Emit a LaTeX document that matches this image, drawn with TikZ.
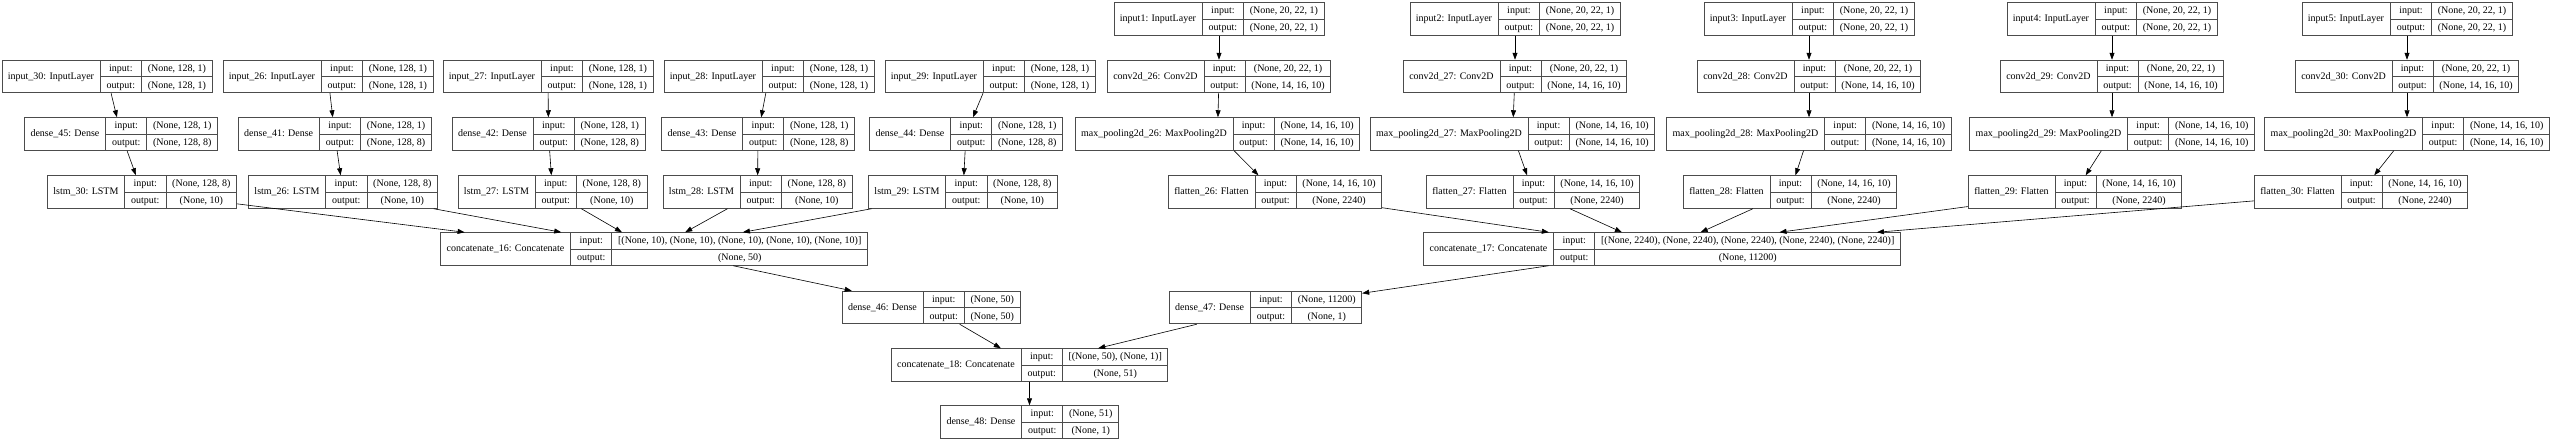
\documentclass[tikz,border=0pt]{standalone}
\usepackage{fontspec}
\setmainfont{Liberation Serif}
\usepackage{colortbl}
\usetikzlibrary{arrows.meta, calc}

\renewcommand{\arraystretch}{1.333}
\arrayrulecolor{black!70}
\setlength{\arrayrulewidth}{0.7pt}

% record of one layer: name | input:/output: | shapes
\newcommand{\layerrec}[3]{%
  \begin{tabular}{@{\hspace{6pt}}c@{\hspace{6pt}}|@{}c@{}}
    #1 &
    \begin{tabular}{@{\hspace{6pt}}c@{\hspace{6pt}}|@{\hspace{6pt}}c@{\hspace{6pt}}}
      input: & #2 \\ \hline
      output: & #3
    \end{tabular}
  \end{tabular}}

\begin{document}
\begin{tikzpicture}[
    x=1pt, y=-1pt,
    >={Triangle[length=7pt, width=5pt]},
    layer/.style={draw=black!70, line width=0.8pt, inner sep=0pt, fill=white,
                  font=\fontsize{10}{12}\selectfont},
    edge/.style={->, line width=0.6pt}
]
    \useasboundingbox (0,0) rectangle (2558,442);

    % === LSTM branches ===
    \node[layer] (input_30) at (107,76.5) {\layerrec{input\_30: InputLayer}{(None, 128, 1)}{(None, 128, 1)}};
    \node[layer] (dense_45) at (121,134) {\layerrec{dense\_45: Dense}{(None, 128, 1)}{(None, 128, 8)}};
    \node[layer] (lstm_30) at (142,192) {\layerrec{lstm\_30: LSTM}{(None, 128, 8)}{(None, 10)}};

    \node[layer] (input_26) at (328,76.5) {\layerrec{input\_26: InputLayer}{(None, 128, 1)}{(None, 128, 1)}};
    \node[layer] (dense_41) at (334.7,134) {\layerrec{dense\_41: Dense}{(None, 128, 1)}{(None, 128, 8)}};
    \node[layer] (lstm_26) at (343,192) {\layerrec{lstm\_26: LSTM}{(None, 128, 8)}{(None, 10)}};

    \node[layer] (input_27) at (548,76.5) {\layerrec{input\_27: InputLayer}{(None, 128, 1)}{(None, 128, 1)}};
    \node[layer] (dense_42) at (548.5,134) {\layerrec{dense\_42: Dense}{(None, 128, 1)}{(None, 128, 8)}};
    \node[layer] (lstm_27) at (552.5,192) {\layerrec{lstm\_27: LSTM}{(None, 128, 8)}{(None, 10)}};

    \node[layer] (input_28) at (769,76.5) {\layerrec{input\_28: InputLayer}{(None, 128, 1)}{(None, 128, 1)}};
    \node[layer] (dense_43) at (758,134) {\layerrec{dense\_43: Dense}{(None, 128, 1)}{(None, 128, 8)}};
    \node[layer] (lstm_28) at (757.5,192) {\layerrec{lstm\_28: LSTM}{(None, 128, 8)}{(None, 10)}};

    \node[layer] (input_29) at (990,76.5) {\layerrec{input\_29: InputLayer}{(None, 128, 1)}{(None, 128, 1)}};
    \node[layer] (dense_44) at (966,134) {\layerrec{dense\_44: Dense}{(None, 128, 1)}{(None, 128, 8)}};
    \node[layer] (lstm_29) at (963,192) {\layerrec{lstm\_29: LSTM}{(None, 128, 8)}{(None, 10)}};

    \node[layer] (concat_16) at (654,249) {\layerrec{concatenate\_16: Concatenate}{[(None, 10), (None, 10), (None, 10), (None, 10), (None, 10)]}{(None, 50)}};
    \node[layer] (dense_46) at (931,307.5) {\layerrec{dense\_46: Dense}{(None, 50)}{(None, 50)}};

    % === Conv branches ===
    \node[layer] (input1) at (1219,19) {\layerrec{input1: InputLayer}{(None, 20, 22, 1)}{(None, 20, 22, 1)}};
    \node[layer] (conv_26) at (1219,76.5) {\layerrec{conv2d\_26: Conv2D}{(None, 20, 22, 1)}{(None, 14, 16, 10)}};
    \node[layer] (pool_26) at (1217.5,134) {\layerrec{max\_pooling2d\_26: MaxPooling2D}{(None, 14, 16, 10)}{(None, 14, 16, 10)}};
    \node[layer] (flatten_26) at (1275,192) {\layerrec{flatten\_26: Flatten}{(None, 14, 16, 10)}{(None, 2240)}};

    \node[layer] (input2) at (1515,19) {\layerrec{input2: InputLayer}{(None, 20, 22, 1)}{(None, 20, 22, 1)}};
    \node[layer] (conv_27) at (1515,76.5) {\layerrec{conv2d\_27: Conv2D}{(None, 20, 22, 1)}{(None, 14, 16, 10)}};
    \node[layer] (pool_27) at (1512.5,134) {\layerrec{max\_pooling2d\_27: MaxPooling2D}{(None, 14, 16, 10)}{(None, 14, 16, 10)}};
    \node[layer] (flatten_27) at (1533,192) {\layerrec{flatten\_27: Flatten}{(None, 14, 16, 10)}{(None, 2240)}};

    \node[layer] (input3) at (1809,19) {\layerrec{input3: InputLayer}{(None, 20, 22, 1)}{(None, 20, 22, 1)}};
    \node[layer] (conv_28) at (1809,76.5) {\layerrec{conv2d\_28: Conv2D}{(None, 20, 22, 1)}{(None, 14, 16, 10)}};
    \node[layer] (pool_28) at (1809,134) {\layerrec{max\_pooling2d\_28: MaxPooling2D}{(None, 14, 16, 10)}{(None, 14, 16, 10)}};
    \node[layer] (flatten_28) at (1790,192) {\layerrec{flatten\_28: Flatten}{(None, 14, 16, 10)}{(None, 2240)}};

    \node[layer] (input4) at (2112,19) {\layerrec{input4: InputLayer}{(None, 20, 22, 1)}{(None, 20, 22, 1)}};
    \node[layer] (conv_29) at (2112,76.5) {\layerrec{conv2d\_29: Conv2D}{(None, 20, 22, 1)}{(None, 14, 16, 10)}};
    \node[layer] (pool_29) at (2112,134) {\layerrec{max\_pooling2d\_29: MaxPooling2D}{(None, 14, 16, 10)}{(None, 14, 16, 10)}};
    \node[layer] (flatten_29) at (2075,192) {\layerrec{flatten\_29: Flatten}{(None, 14, 16, 10)}{(None, 2240)}};

    \node[layer] (input5) at (2407,19) {\layerrec{input5: InputLayer}{(None, 20, 22, 1)}{(None, 20, 22, 1)}};
    \node[layer] (conv_30) at (2407,76.5) {\layerrec{conv2d\_30: Conv2D}{(None, 20, 22, 1)}{(None, 14, 16, 10)}};
    \node[layer] (pool_30) at (2407,134) {\layerrec{max\_pooling2d\_30: MaxPooling2D}{(None, 14, 16, 10)}{(None, 14, 16, 10)}};
    \node[layer] (flatten_30) at (2361,192) {\layerrec{flatten\_30: Flatten}{(None, 14, 16, 10)}{(None, 2240)}};

    \node[layer] (concat_17) at (1662,249) {\layerrec{concatenate\_17: Concatenate}{[(None, 2240), (None, 2240), (None, 2240), (None, 2240), (None, 2240)]}{(None, 11200)}};
    \node[layer] (dense_47) at (1265.5,307.5) {\layerrec{dense\_47: Dense}{(None, 11200)}{(None, 1)}};

    % === Merge and output ===
    \node[layer] (concat_18) at (1029.5,365) {\layerrec{concatenate\_18: Concatenate}{[(None, 50), (None, 1)]}{(None, 51)}};
    \node[layer] (dense_48) at (1029.5,422) {\layerrec{dense\_48: Dense}{(None, 51)}{(None, 1)}};

    % === Edges ===
    \draw[edge] (input_30) -- (dense_45);
    \draw[edge] (dense_45) -- (lstm_30);
    \draw[edge] (input_26) -- (dense_41);
    \draw[edge] (dense_41) -- (lstm_26);
    \draw[edge] (input_27) -- (dense_42);
    \draw[edge] (dense_42) -- (lstm_27);
    \draw[edge] (input_28) -- (dense_43);
    \draw[edge] (dense_43) -- (lstm_28);
    \draw[edge] (input_29) -- (dense_44);
    \draw[edge] (dense_44) -- (lstm_29);

    \draw[edge] (lstm_30) -- ($(concat_16.north west)!0.057!(concat_16.north east)$);
    \draw[edge] (lstm_26) -- ($(concat_16.north west)!0.283!(concat_16.north east)$);
    \draw[edge] (lstm_27) -- ($(concat_16.north west)!0.425!(concat_16.north east)$);
    \draw[edge] (lstm_28) -- ($(concat_16.north west)!0.573!(concat_16.north east)$);
    \draw[edge] (lstm_29) -- ($(concat_16.north west)!0.708!(concat_16.north east)$);
    \draw[edge] (concat_16) -- (dense_46);

    \draw[edge] (input1) -- (conv_26);
    \draw[edge] (conv_26) -- (pool_26);
    \draw[edge] (pool_26) -- (flatten_26);
    \draw[edge] (input2) -- (conv_27);
    \draw[edge] (conv_27) -- (pool_27);
    \draw[edge] (pool_27) -- (flatten_27);
    \draw[edge] (input3) -- (conv_28);
    \draw[edge] (conv_28) -- (pool_28);
    \draw[edge] (pool_28) -- (flatten_28);
    \draw[edge] (input4) -- (conv_29);
    \draw[edge] (conv_29) -- (pool_29);
    \draw[edge] (pool_29) -- (flatten_29);
    \draw[edge] (input5) -- (conv_30);
    \draw[edge] (conv_30) -- (pool_30);
    \draw[edge] (pool_30) -- (flatten_30);

    \draw[edge] (flatten_26) -- ($(concat_17.north west)!0.263!(concat_17.north east)$);
    \draw[edge] (flatten_27) -- ($(concat_17.north west)!0.416!(concat_17.north east)$);
    \draw[edge] (flatten_28) -- ($(concat_17.north west)!0.581!(concat_17.north east)$);
    \draw[edge] (flatten_29) -- ($(concat_17.north west)!0.746!(concat_17.north east)$);
    \draw[edge] (flatten_30) -- ($(concat_17.north west)!0.950!(concat_17.north east)$);
    \draw[edge] (concat_17) -- (dense_47);

    \draw[edge] (dense_46) -- (concat_18);
    \draw[edge] (dense_47) -- (concat_18);
    \draw[edge] (concat_18) -- (dense_48);

\end{tikzpicture}
\end{document}
